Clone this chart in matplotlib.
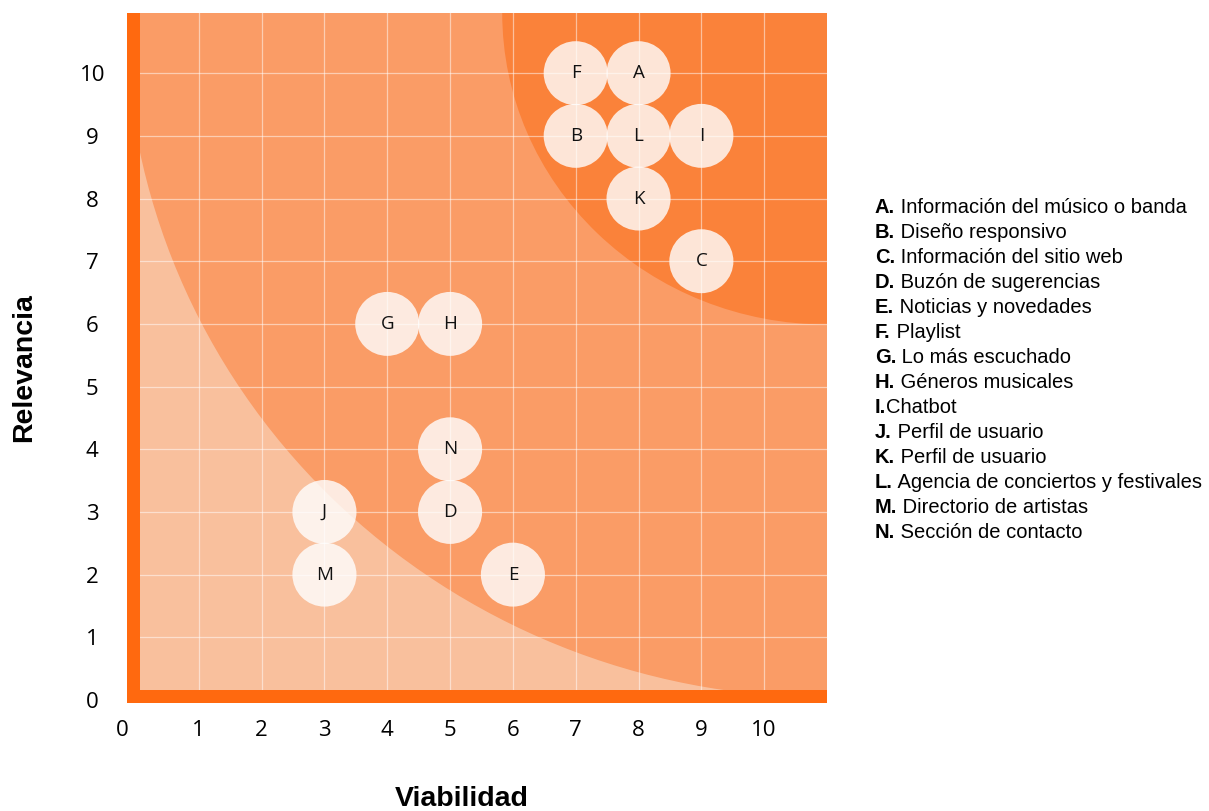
import matplotlib
matplotlib.use('Agg')
import matplotlib.pyplot as plt
from matplotlib.patches import Circle, Ellipse, Rectangle
from matplotlib.transforms import ScaledTranslation

# data
letters = ['A', 'B', 'C', 'D', 'E', 'F', 'G', 'H', 'I', 'J', 'K', 'L', 'M', 'N']
viabilidad = [8, 7, 9, 5, 6, 7, 4, 5, 9, 3, 8, 8, 3, 5]
relevancia = [10, 9, 7, 3, 2, 10, 6, 6, 9, 3, 8, 9, 2, 4]
legend_keys = ['A.', 'B.', 'C.', 'D.', 'E.', 'F.', 'G.', 'H.', 'I.', 'J.', 'K.', 'L.', 'M.', 'N.']
legend_texts = [' Información del músico o banda', ' Diseño responsivo', ' Información del sitio web',
                ' Buzón de sugerencias', ' Noticias y novedades', ' Playlist', ' Lo más escuchado',
                ' Géneros musicales', 'Chatbot', ' Perfil de usuario', ' Perfil de usuario',
                ' Agencia de conciertos y festivales', ' Directorio de artistas', ' Sección de contacto']
ticks = list(range(11))

LIGHT = '#F9C09D'
MID = '#FA9C66'
DARK = '#FA823A'
BAR = '#FF690F'

W, H = 1209, 811
fig = plt.figure(figsize=(W / 100, H / 100), dpi=100)
# axes box in pixels: left 127, right 827, top 13, bottom 703
ax = fig.add_axes([127 / W, 1 - 703 / H, 700 / W, 690 / H])
ax.set_xlim(-0.143, 11.0)
ax.set_ylim(-0.048, 10.96)
for s in ax.spines.values():
    s.set_visible(False)

# background zones: concentric arcs around the top right corner
cx, cy = 11.0, 10.96
ax.add_patch(Rectangle((-1, -1), 13, 13, color=LIGHT, zorder=0.1, lw=0))
ax.add_patch(Ellipse((cx, cy), 2 * 11.17, 2 * 10.92, color=MID, zorder=0.2, lw=0))
ax.add_patch(Ellipse((cx, cy), 2 * 5.17, 2 * 4.97, color=DARK, zorder=0.3, lw=0))

ax.set_axisbelow(True)
ax.grid(True, color='white', alpha=0.5, linewidth=0.9)
ax.set_xticks(ticks)
ax.set_yticks(ticks)
ax.tick_params(length=0, labelsize=16)
ax.tick_params(axis='x', pad=12)
ax.tick_params(axis='y', pad=25)
for lab in ax.get_yticklabels():
    lab.set_horizontalalignment('center')
for lab in ax.get_xticklabels() + ax.get_yticklabels():
    lab.set_fontfamily('Open Sans')
# the 0 on the x axis sits a bit left of the corner
x0 = ax.get_xticklabels()[0]
x0.set_transform(x0.get_transform() + ScaledTranslation(-0.14, 0, fig.dpi_scale_trans))

# thick orange axis bars
ax.add_patch(Rectangle((0, 0), 13 / 700, 1, transform=ax.transAxes, color=BAR, lw=0, zorder=4))
ax.add_patch(Rectangle((0, 0), 1, 13 / 690, transform=ax.transAxes, color=BAR, lw=0, zorder=4))

for lt, vx, ry in zip(letters, viabilidad, relevancia):
    ax.add_patch(Circle((vx, ry), 0.51, facecolor='white', alpha=0.8, lw=0, zorder=2))
    ax.text(vx, ry, lt, ha='center', va='center', fontsize=13.5, family='Open Sans',
            color='#111111', zorder=3)

ax.set_xlabel('Viabilidad', fontsize=20.5, fontweight='bold', family='Liberation Sans')
ax.xaxis.set_label_coords((462 - 127) / 700, (703 - 786) / 690)
ax.set_ylabel('Relevancia', fontsize=20.5, fontweight='bold', family='Liberation Sans')
ax.yaxis.set_label_coords((37 - 127) / 700, (703 - 368) / 690)

# legend on the right
for i, (k, t) in enumerate(zip(legend_keys, legend_texts)):
    yb = 213 + 25 * i
    kt = fig.text(875 / W, 1 - yb / H, k, fontsize=14.5, fontweight='bold',
                  family='Liberation Sans', va='baseline', ha='left')
    ax.annotate(t, xy=(1, 0), xycoords=kt, va='bottom', ha='left', fontsize=14.5,
                family='Liberation Sans')

fig.savefig('out.png', dpi=100)
